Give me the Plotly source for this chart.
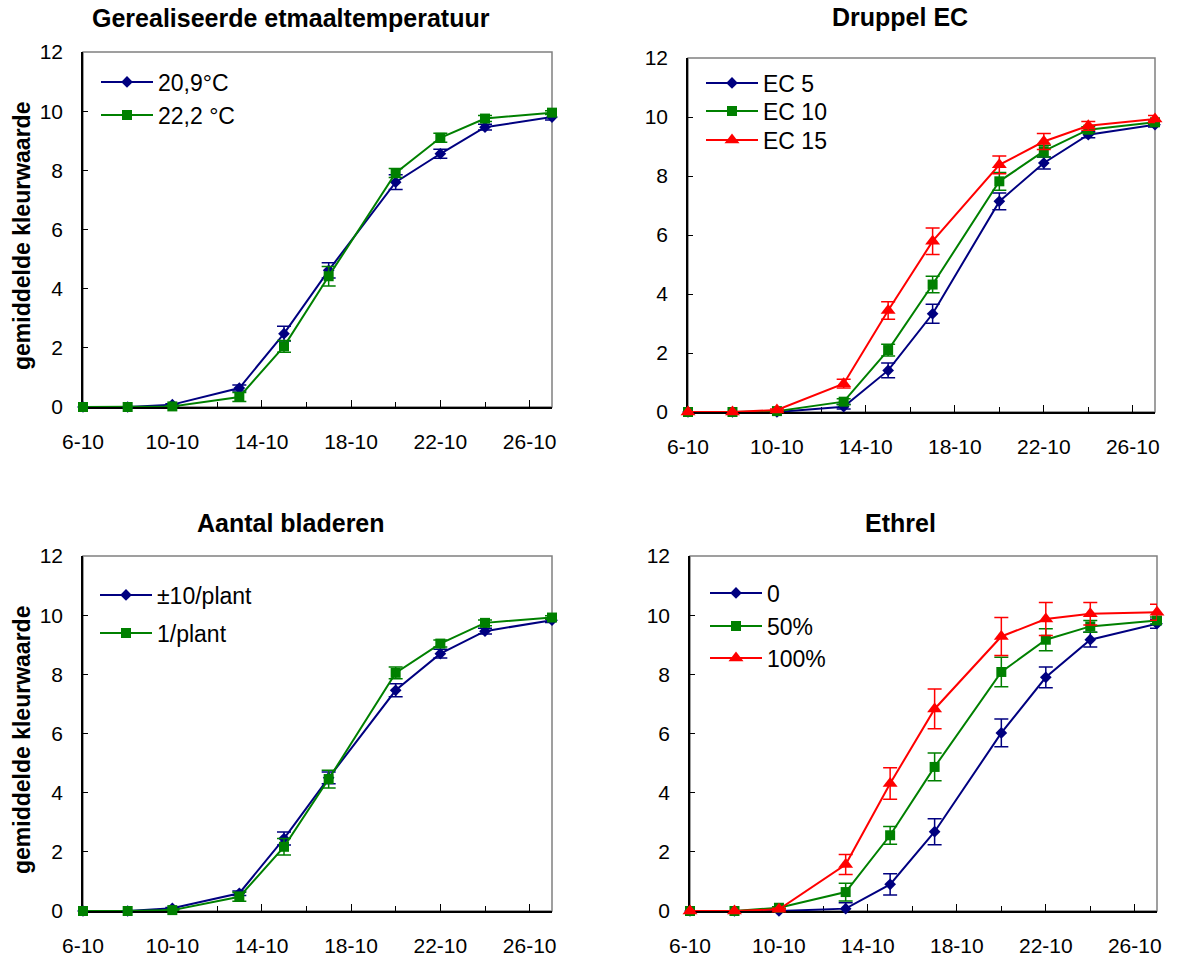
import plotly.graph_objects as go

W, H = 1178, 962
OX, OY = 0, 0  # body margin removed via post_script

days = [6, 8, 10, 13, 15, 17, 20, 22, 24, 27]
tick_days = [6, 10, 14, 18, 22, 26]
tick_labels = ["6-10", "10-10", "14-10", "18-10", "22-10", "26-10"]
minor_days = [8, 12, 16, 20, 24]

# Panel 1: Gerealiseerde etmaaltemperatuur
t209 = [0, 0, 0.08, 0.64, 2.48, 4.62, 7.6, 8.56, 9.46, 9.8]
t209_err = [0, 0, 0.03, 0.1, 0.25, 0.26, 0.25, 0.15, 0.1, 0.1]
t222 = [0, 0, 0.02, 0.34, 2.05, 4.42, 7.91, 9.1, 9.75, 9.95]
t222_err = [0, 0, 0.02, 0.15, 0.2, 0.33, 0.15, 0.15, 0.1, 0.06]

# Panel 2: Druppel EC
ec5 = [0, 0, 0, 0.18, 1.41, 3.33, 7.14, 8.44, 9.4, 9.74]
ec5_err = [0, 0, 0.02, 0.08, 0.25, 0.32, 0.28, 0.2, 0.1, 0.08]
ec10 = [0, 0, 0.03, 0.35, 2.1, 4.32, 7.82, 8.84, 9.57, 9.82]
ec10_err = [0, 0, 0.02, 0.1, 0.2, 0.28, 0.3, 0.2, 0.1, 0.08]
ec15 = [0, 0, 0.07, 0.96, 3.44, 5.79, 8.38, 9.17, 9.7, 9.93]
ec15_err = [0, 0, 0.03, 0.15, 0.3, 0.45, 0.3, 0.27, 0.15, 0.12]

# Panel 3: Aantal bladeren
b10 = [0, 0, 0.09, 0.6, 2.45, 4.5, 7.46, 8.7, 9.46, 9.83]
b10_err = [0, 0, 0.03, 0.08, 0.22, 0.2, 0.22, 0.15, 0.1, 0.08]
b1 = [0, 0, 0.03, 0.48, 2.17, 4.46, 8.05, 9.04, 9.74, 9.92]
b1_err = [0, 0, 0.02, 0.15, 0.28, 0.3, 0.2, 0.12, 0.1, 0.06]

# Panel 4: Ethrel
e0 = [0, 0, 0, 0.08, 0.9, 2.68, 6.02, 7.9, 9.17, 9.71]
e0_err = [0, 0, 0.02, 0.2, 0.36, 0.44, 0.47, 0.35, 0.25, 0.15]
e50 = [0, 0, 0.11, 0.64, 2.56, 4.87, 8.08, 9.17, 9.62, 9.82]
e50_err = [0, 0, 0.03, 0.3, 0.3, 0.47, 0.5, 0.37, 0.2, 0.12]
e100 = [0, 0, 0.06, 1.57, 4.31, 6.83, 9.28, 9.87, 10.05, 10.1]
e100_err = [0, 0, 0.03, 0.34, 0.53, 0.67, 0.64, 0.56, 0.38, 0.27]

BLUE, GREEN, RED = "#000080", "#008000", "#FF0000"
FONT = "Liberation Sans, Arial, sans-serif"


def px(x):
    return (x - OX) / W


def py(y):
    return 1 - (y - OY) / H


# panel pixel boxes in screenshot pixels: (left, right, top, bottom)
boxes = [
    (83, 552, 52, 407),
    (688, 1155, 58, 412),
    (83, 552, 556, 911),
    (690, 1157, 556, 911),
]

series = [
    (1, "20,9°C", t209, t209_err, BLUE, "diamond", 9, (101, 82)),
    (1, "22,2 °C", t222, t222_err, GREEN, "square", 10, (101, 115)),
    (2, "EC 5", ec5, ec5_err, BLUE, "diamond", 9, (706, 83)),
    (2, "EC 10", ec10, ec10_err, GREEN, "square", 10, (706, 111)),
    (2, "EC 15", ec15, ec15_err, RED, "triangle-up", 13, (706, 140)),
    (3, "±10/plant", b10, b10_err, BLUE, "diamond", 9, (100, 595)),
    (3, "1/plant", b1, b1_err, GREEN, "square", 10, (100, 633)),
    (4, "0", e0, e0_err, BLUE, "diamond", 9, (710, 593)),
    (4, "50%", e50, e50_err, GREEN, "square", 10, (710, 626)),
    (4, "100%", e100, e100_err, RED, "triangle-up", 13, (710, 658)),
]

fig = go.Figure()
layout = dict(
    template="none",
    width=W, height=H, autosize=False,
    margin=dict(l=0, r=0, t=0, b=0, pad=0, autoexpand=False),
    paper_bgcolor="white", plot_bgcolor="white",
    font=dict(family=FONT, size=21, color="black"),
    showlegend=True,
)

for i, (l, r, t, b) in enumerate(boxes, start=1):
    xk = "xaxis" if i == 1 else f"xaxis{i}"
    yk = "yaxis" if i == 1 else f"yaxis{i}"
    layout[xk] = dict(
        domain=[px(l), px(r)], range=[6, 27], anchor="y" if i == 1 else f"y{i}",
        automargin=False,
        showline=True, linecolor="black", linewidth=1.5,
        ticks="inside", ticklen=7, tickcolor="black", tickwidth=1.2,
        tickmode="array", tickvals=tick_days, ticktext=tick_labels,
        minor=dict(tickmode="array", tickvals=minor_days, ticks="inside", ticklen=5,
                   tickcolor="black", tickwidth=1.2, showgrid=False),
        showgrid=False, zeroline=False, fixedrange=True, layer="below traces",
        ticklabelstandoff=15, tickfont=dict(size=21),
    )
    layout[yk] = dict(
        domain=[py(b), py(t)], range=[0, 12], anchor="x" if i == 1 else f"x{i}",
        automargin=False,
        showline=True, linecolor="black", linewidth=1.5,
        ticks="inside", ticklen=5, tickcolor="black", tickwidth=1.2,
        dtick=2, tick0=0, showgrid=False, zeroline=False, fixedrange=True,
        layer="below traces", ticklabelstandoff=14, tickfont=dict(size=21),
    )

shapes = []
for i in range(1, 5):
    xr = "x" if i == 1 else f"x{i}"
    yr = "y" if i == 1 else f"y{i}"
    shapes.append(dict(type="rect", xref=f"{xr} domain", yref=f"{yr} domain",
                       x0=0, x1=1, y0=0, y1=1, line=dict(color="#808080", width=1.5),
                       layer="below"))
layout["shapes"] = shapes

for k, (panel, name, vals, errs, color, sym, size, (lx, ly)) in enumerate(series, start=1):
    xr = "x" if panel == 1 else f"x{panel}"
    yr = "y" if panel == 1 else f"y{panel}"
    lg = "legend" if k == 1 else f"legend{k}"
    fig.add_trace(go.Scatter(
        x=days, y=vals, name=name, mode="lines+markers",
        xaxis=xr, yaxis=yr, legend=lg,
        line=dict(color=color, width=2),
        marker=dict(symbol=sym, size=size, color=color, line=dict(width=0)),
        error_y=dict(type="data", array=errs, visible=True, color=color, thickness=1.5, width=7),
        cliponaxis=False,
    ))
    layout[lg] = dict(
        x=px(lx - 5), y=py(ly), xanchor="left", yanchor="middle",
        bgcolor="rgba(0,0,0,0)", borderwidth=0, itemwidth=52,
        font=dict(family=FONT, size=23, color="black"),
        itemclick=False, itemdoubleclick=False,
    )

titles = [
    ("Gerealiseerde etmaaltemperatuur", 291, 18),
    ("Druppel EC", 900, 17),
    ("Aantal bladeren", 291, 523),
    ("Ethrel", 901, 523),
]
annotations = []
for text, cx, cy in titles:
    annotations.append(dict(text=f"<b>{text}</b>", x=px(cx), y=py(cy), xref="paper", yref="paper",
                            showarrow=False, xanchor="center", yanchor="middle",
                            font=dict(family=FONT, size=25, color="black")))
for cy in (236, 740):
    annotations.append(dict(text="<b>gemiddelde kleurwaarde</b>", x=px(22), y=py(cy),
                            xref="paper", yref="paper", showarrow=False, textangle=-90,
                            xanchor="center", yanchor="middle",
                            font=dict(family=FONT, size=23, color="black")))
layout["annotations"] = annotations

fig.update_layout(**layout)
fig.write_html("out.html", config={"displayModeBar": False},
               post_script="document.body.style.margin='0';document.body.style.padding='0';")
